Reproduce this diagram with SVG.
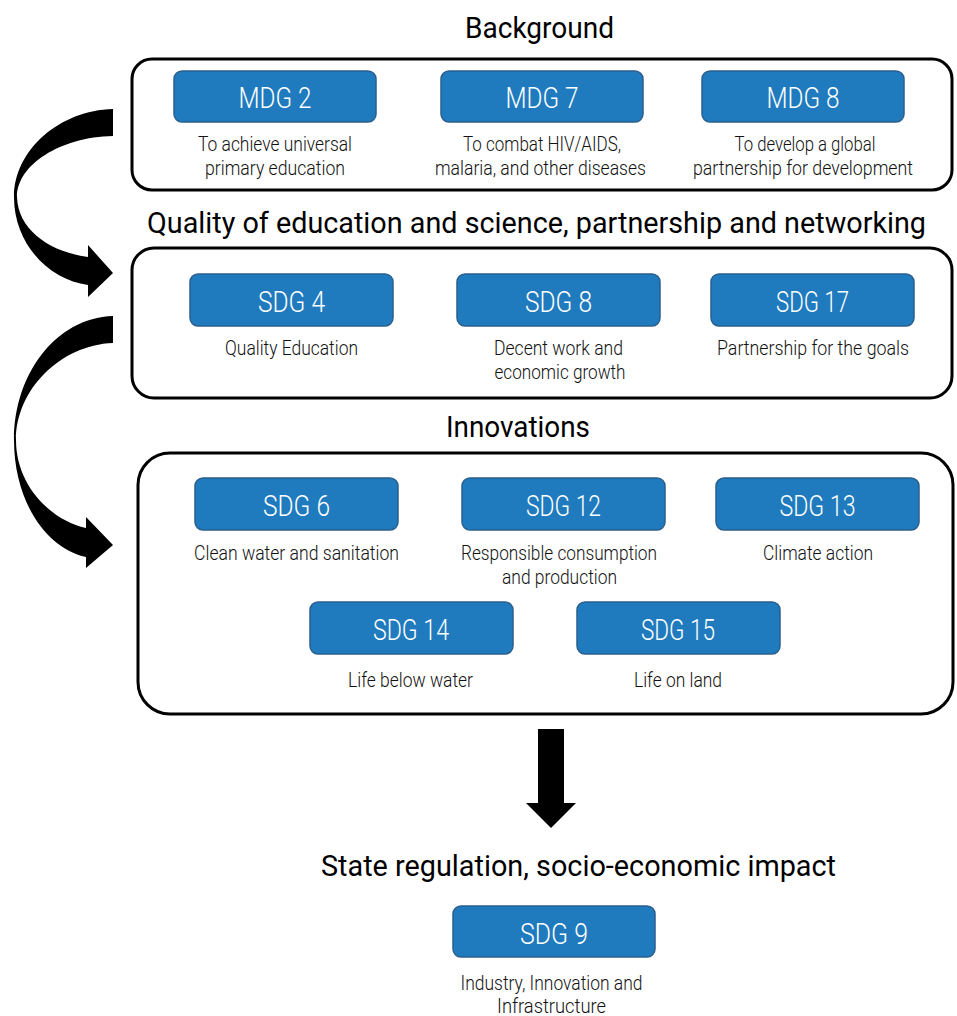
<svg xmlns="http://www.w3.org/2000/svg" width="957" height="1016" viewBox="0 0 957 1016">
  <style>
    .title { font-family: Roboto, "Liberation Sans", sans-serif; font-size: 29px; font-weight: 400; fill: #000; text-anchor: middle; }
    .group { fill: #fff; stroke: #000; stroke-width: 3; }
    .goal { fill: #1f7bbe; stroke: #2a5f8e; stroke-width: 1.5; }
    .goal-label { font-family: Roboto, "Liberation Sans", sans-serif; font-size: 30px; font-weight: 300; fill: #fff; text-anchor: middle; }
    .desc { font-family: Roboto, "Liberation Sans", sans-serif; font-size: 21px; font-weight: 300; fill: #111; text-anchor: middle; }
    .arrow { fill: #000; }
  </style>
  <rect width="957" height="1016" fill="#fff"/>

  <!-- Section headings -->
  <text class="title" x="539.5" y="38" textLength="149" lengthAdjust="spacingAndGlyphs">Background</text>
  <text class="title" x="536.5" y="233" textLength="779" lengthAdjust="spacingAndGlyphs">Quality of education and science, partnership and networking</text>
  <text class="title" x="518" y="437" textLength="144" lengthAdjust="spacingAndGlyphs">Innovations</text>
  <text class="title" x="578.5" y="876" textLength="515" lengthAdjust="spacingAndGlyphs">State regulation, socio-economic impact</text>

  <!-- Group frames -->
  <g id="group-background"><rect class="group" x="132" y="59" width="820" height="131" rx="20"/></g>
  <g id="group-quality"><rect class="group" x="132" y="248" width="820" height="150" rx="22"/></g>
  <g id="group-innovations"><rect class="group" x="138" y="453" width="815" height="261" rx="32"/></g>

  <!-- Connectors -->
  <g id="connectors">
    <path class="arrow" d="M113,109 C60,110 14,150 14,197 C14,245 50,280 88,285 L88,297 L113,273 L88,245 L88,257 C50,252 18,230 17,197 C17,165 60,137 113,136 Z"/>
    <path class="arrow" d="M113,316 C55,318 14,375 14,440 C14,500 45,548 86,557 L86,568 L113,545 L86,517 L86,528 C50,520 16,485 16,440 C16,390 60,345 113,343 Z"/>
    <path class="arrow" d="M538,729 L564,729 L564,803 L576,803 L551,828 L526,803 L538,803 Z"/>
  </g>

  <!-- Goals -->
  <g id="mdg2">
    <rect class="goal" x="174" y="71" width="202" height="51" rx="8"/>
    <text class="goal-label" x="275" y="108" textLength="73" lengthAdjust="spacingAndGlyphs">MDG 2</text>
    <text class="desc" x="275" y="151" textLength="154" lengthAdjust="spacingAndGlyphs">To achieve universal</text>
    <text class="desc" x="275" y="175" textLength="140" lengthAdjust="spacingAndGlyphs">primary education</text>
  </g>
  <g id="mdg7">
    <rect class="goal" x="441" y="71" width="202" height="51" rx="8"/>
    <text class="goal-label" x="542" y="108" textLength="73" lengthAdjust="spacingAndGlyphs">MDG 7</text>
    <text class="desc" x="542" y="151" textLength="158" lengthAdjust="spacingAndGlyphs">To combat HIV/AIDS,</text>
    <text class="desc" x="540.5" y="175" textLength="211" lengthAdjust="spacingAndGlyphs">malaria, and other diseases</text>
  </g>
  <g id="mdg8">
    <rect class="goal" x="702" y="71" width="202" height="51" rx="8"/>
    <text class="goal-label" x="803" y="108" textLength="73" lengthAdjust="spacingAndGlyphs">MDG 8</text>
    <text class="desc" x="805" y="151" textLength="141" lengthAdjust="spacingAndGlyphs">To develop a global</text>
    <text class="desc" x="803" y="175" textLength="220" lengthAdjust="spacingAndGlyphs">partnership for development</text>
  </g>

  <g id="sdg4">
    <rect class="goal" x="190" y="274" width="203" height="52" rx="8"/>
    <text class="goal-label" x="291.5" y="312" textLength="67" lengthAdjust="spacingAndGlyphs">SDG 4</text>
    <text class="desc" x="291.5" y="355" textLength="133" lengthAdjust="spacingAndGlyphs">Quality Education</text>
  </g>
  <g id="sdg8">
    <rect class="goal" x="457" y="274" width="203" height="52" rx="8"/>
    <text class="goal-label" x="558.5" y="312" textLength="67" lengthAdjust="spacingAndGlyphs">SDG 8</text>
    <text class="desc" x="558.5" y="355" textLength="129" lengthAdjust="spacingAndGlyphs">Decent work and</text>
    <text class="desc" x="560" y="379" textLength="131" lengthAdjust="spacingAndGlyphs">economic growth</text>
  </g>
  <g id="sdg17">
    <rect class="goal" x="711" y="274" width="203" height="52" rx="8"/>
    <text class="goal-label" x="812.5" y="312" textLength="73" lengthAdjust="spacingAndGlyphs">SDG 17</text>
    <text class="desc" x="813" y="355" textLength="192" lengthAdjust="spacingAndGlyphs">Partnership for the goals</text>
  </g>

  <g id="sdg6">
    <rect class="goal" x="195" y="478" width="203" height="52" rx="8"/>
    <text class="goal-label" x="296.5" y="516" textLength="67" lengthAdjust="spacingAndGlyphs">SDG 6</text>
    <text class="desc" x="296.5" y="560" textLength="205" lengthAdjust="spacingAndGlyphs">Clean water and sanitation</text>
  </g>
  <g id="sdg12">
    <rect class="goal" x="462" y="478" width="203" height="52" rx="8"/>
    <text class="goal-label" x="563.5" y="516" textLength="75" lengthAdjust="spacingAndGlyphs">SDG 12</text>
    <text class="desc" x="559" y="560" textLength="196" lengthAdjust="spacingAndGlyphs">Responsible consumption</text>
    <text class="desc" x="559.5" y="584" textLength="115" lengthAdjust="spacingAndGlyphs">and production</text>
  </g>
  <g id="sdg13">
    <rect class="goal" x="716" y="478" width="203" height="52" rx="8"/>
    <text class="goal-label" x="817.5" y="516" textLength="76" lengthAdjust="spacingAndGlyphs">SDG 13</text>
    <text class="desc" x="818" y="560" textLength="110" lengthAdjust="spacingAndGlyphs">Climate action</text>
  </g>
  <g id="sdg14">
    <rect class="goal" x="310" y="602" width="203" height="52" rx="8"/>
    <text class="goal-label" x="411" y="640" textLength="76" lengthAdjust="spacingAndGlyphs">SDG 14</text>
    <text class="desc" x="410.5" y="687" textLength="125" lengthAdjust="spacingAndGlyphs">Life below water</text>
  </g>
  <g id="sdg15">
    <rect class="goal" x="577" y="602" width="203" height="52" rx="8"/>
    <text class="goal-label" x="678" y="640" textLength="74" lengthAdjust="spacingAndGlyphs">SDG 15</text>
    <text class="desc" x="678" y="687" textLength="88" lengthAdjust="spacingAndGlyphs">Life on land</text>
  </g>

  <g id="sdg9">
    <rect class="goal" x="453" y="906" width="202" height="51" rx="8"/>
    <text class="goal-label" x="554" y="944" textLength="68" lengthAdjust="spacingAndGlyphs">SDG 9</text>
    <text class="desc" x="551.5" y="990" textLength="182" lengthAdjust="spacingAndGlyphs">Industry, Innovation and</text>
    <text class="desc" x="551.5" y="1013" textLength="109" lengthAdjust="spacingAndGlyphs">Infrastructure</text>
  </g>
</svg>
